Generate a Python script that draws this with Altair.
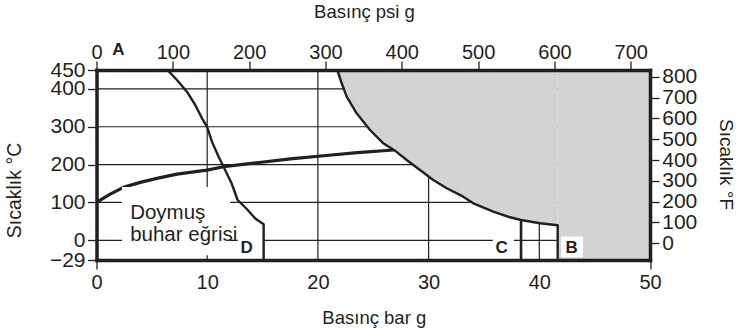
import altair as alt
import pandas as pd

FONT = "Liberation Sans"
DARK = "#231f20"
GREY = "#d1d3d4"

# --- data -------------------------------------------------------------------
# saturated steam curve (bar g, °C)
sat_bar = [0, 1.24, 2.44, 3.95, 5.46, 7.27, 9.98, 11.48, 14.5, 17.51, 20.52, 23.54, 26.85]
sat_temp = [100, 122, 140, 153, 163.5, 175, 185.5, 194.5, 205, 215, 223.5, 231.5, 238.6]

# curve D
d_bar = [6.42, 7.27, 8.17, 8.92, 9.53, 9.98, 10.43, 11.03, 11.48, 12.2, 12.75, 13.6, 14.4, 15.1, 15.1]
d_temp = [450, 423.6, 392.7, 357.5, 322.4, 300.2, 260.6, 220.9, 194.5, 150.7, 106.5, 82, 56, 42.3, -29]

# boundary of grey region (ends at B)
b_bar = [21.75, 22.15, 22.6, 23.5, 24.71, 25.91, 26.96, 28.02, 29.22, 30.42, 31.64, 33.13,
         34.04, 35.84, 37.35, 38.35, 40.06, 41.66]
b_temp = [450, 414.9, 379.5, 335.6, 291.5, 256.3, 236.8, 212.2, 185.8, 159.4, 137.4, 115.3,
          97.8, 75.6, 60.8, 53.7, 45, 39.7]

# C vertical
c_bar = [38.35, 38.35]
c_temp = [53.7, -29]

# axes
x_domain = [0, 50]
y_domain = [-29, 0, 450]
x_ticks = [0, 10, 20, 30, 40, 50]
y_ticks = [-29, 0, 100, 200, 300, 400, 450]
psi_domain = [0, 725.2]
psi_ticks = [0, 100, 200, 300, 400, 500, 600, 700]
f_domain = [-80.2, 832.2]
f_ticks = [0, 100, 200, 300, 400, 500, 600, 700, 800]

# grid lines
hgrid = [400, 300, 200, 100, 0]
vgrid = [10, 20, 30, 40]

# white label boxes
box_x0 = [2.3, 12.75, 35.8, 41.97]
box_x1 = [12.07, 15.05, 37.7, 43.95]
box_t0 = [141, 12, 12, 9.6]
box_t1 = [-22, -25, -25, -25]

# annotation texts
note_text = ["Doymuş", "buhar eğrisi"]
note_bar = [3.04, 3.04]
note_temp = [55.5, -1]

letter_text = ["A", "B", "C", "D"]
letter_bar = [1.97, 42.93, 36.6, 13.57]
letter_temp = [502.8, -11, -11, -11]

# --- layout -----------------------------------------------------------------
W, H = 553.5, 190
PAD = {"left": 96.5, "top": 70, "right": 89, "bottom": 71}

xs = alt.Scale(domain=x_domain, nice=False, zero=False)
ys = alt.Scale(domain=y_domain, range=[H, 170.3, 0], nice=False, zero=False)

common_axis = dict(
    domainColor=DARK, domainWidth=3.5, domainCap="square", tickColor=DARK, tickWidth=1.3,
    labelColor=DARK, labelFont=FONT, titleFont=FONT, titleColor=DARK, titleFontWeight="normal",
    grid=False, zindex=1, labelOverlap=False, labelFlush=False, titleAlign="center",
    titleBaseline="middle",
)

x_axis = alt.Axis(
    orient="bottom", values=x_ticks, tickSize=9, labelPadding=3.5, labelFontSize=20,
    title="Basınç bar g", titleFontSize=18.5, titleX=277.3, titleY=57, titleAngle=0,
    tickOpacity={"condition": {"test": "datum.value == 0 || datum.value == 50", "value": 1}, "value": 0},
    **common_axis,
)
y_axis = alt.Axis(
    orient="left", values=y_ticks, tickSize=9, labelPadding=2.5, labelFontSize=21,
    title="Sıcaklık °C", titleFontSize=19.5, titleX=-82, titleY=120, titleAngle=270,
    **common_axis,
)
top_axis = alt.Axis(
    orient="top", values=psi_ticks, tickSize=9, labelPadding=3, labelFontSize=20,
    labelBaseline="alphabetic",
    title="Basınç psi g", titleFontSize=18.5, titleX=267.5, titleY=-59, titleAngle=0,
    **common_axis,
)
right_axis = alt.Axis(
    orient="right", values=f_ticks, tickSize=9, labelPadding=2.7, labelFontSize=21,
    title="Sıcaklık °F", titleFontSize=19, titleX=75, titleY=94, titleAngle=90,
    **common_axis,
)


def X(field):
    return alt.X(field, type="quantitative", scale=xs, axis=x_axis)


def Y(field):
    return alt.Y(field, type="quantitative", scale=ys, axis=y_axis, stack=None)


def series(xv, yv):
    return pd.DataFrame({"bar": xv, "temp": yv, "i": list(range(len(xv)))})


sat_df = series(sat_bar, sat_temp)
d_df = series(d_bar, d_temp)
b_df = series(b_bar + [b_bar[-1]], b_temp + [y_domain[0]])
c_df = series(c_bar, c_temp)
area_df = series(b_bar, b_temp)

vg = alt.Chart(pd.DataFrame({"bar": vgrid})).mark_rule(color=DARK, strokeWidth=1.2).encode(x=X("bar"))
hg = alt.Chart(pd.DataFrame({"temp": hgrid})).mark_rule(color=DARK, strokeWidth=1.2).encode(y=Y("temp"))

# grey region: under the boundary curve up to the top, plus the block right of B
area = alt.Chart(area_df).mark_area(color=GREY, opacity=1).encode(
    x=X("bar"), y=Y("temp"), y2=alt.datum(y_domain[2])
)
block = alt.Chart(pd.DataFrame({"x0": [b_bar[-1]], "x1": [x_domain[1]],
                                "t0": [y_domain[0]], "t1": [y_domain[2]]})).mark_rect(
    color=GREY, opacity=1
).encode(x=X("x0"), x2="x1", y=Y("t0"), y2="t1")


def line(df, w):
    return alt.Chart(df).mark_line(color=DARK, strokeWidth=w, strokeJoin="round").encode(
        x=X("bar"), y=Y("temp"), order=alt.Order("i:Q")
    )


sat_line = line(sat_df, 3.2)
d_line = line(d_df, 2.4)
b_line = line(b_df, 2.4)
c_line = line(c_df, 2.6)

boxes = alt.Chart(pd.DataFrame({"x0": box_x0, "x1": box_x1, "t0": box_t0, "t1": box_t1})).mark_rect(
    color="white", opacity=1
).encode(x=X("x0"), x2="x1", y=Y("t0"), y2="t1")

notes = alt.Chart(pd.DataFrame({"bar": note_bar, "temp": note_temp, "t": note_text})).mark_text(
    font=FONT, fontSize=20.5, color=DARK, align="left", baseline="alphabetic"
).encode(x=X("bar"), y=Y("temp"), text="t:N")

letters = alt.Chart(pd.DataFrame({"bar": letter_bar, "temp": letter_temp, "t": letter_text})).mark_text(
    font=FONT, fontSize=17, fontWeight="bold", color=DARK, align="center", baseline="middle"
).encode(x=X("bar"), y=Y("temp"), text="t:N")

main = alt.layer(vg, hg, area, block, sat_line, boxes, d_line, b_line, c_line, notes, letters)

sec = alt.Chart(pd.DataFrame({"psi": psi_domain, "F": [f_domain[0], f_domain[1]]})).mark_point(opacity=0).encode(
    x=alt.X("psi:Q", scale=alt.Scale(domain=psi_domain, nice=False, zero=False), axis=top_axis),
    y=alt.Y("F:Q", scale=alt.Scale(domain=f_domain, nice=False, zero=False), axis=right_axis),
)

chart = (
    alt.layer(main, sec)
    .resolve_scale(x="independent", y="independent")
    .properties(width=W, height=H, autosize=alt.AutoSizeParams(type="none"), padding=PAD,
                background="white")
    .configure_view(stroke=None)
)

chart.save("out.html", embed_options={"renderer": "svg", "actions": False})
